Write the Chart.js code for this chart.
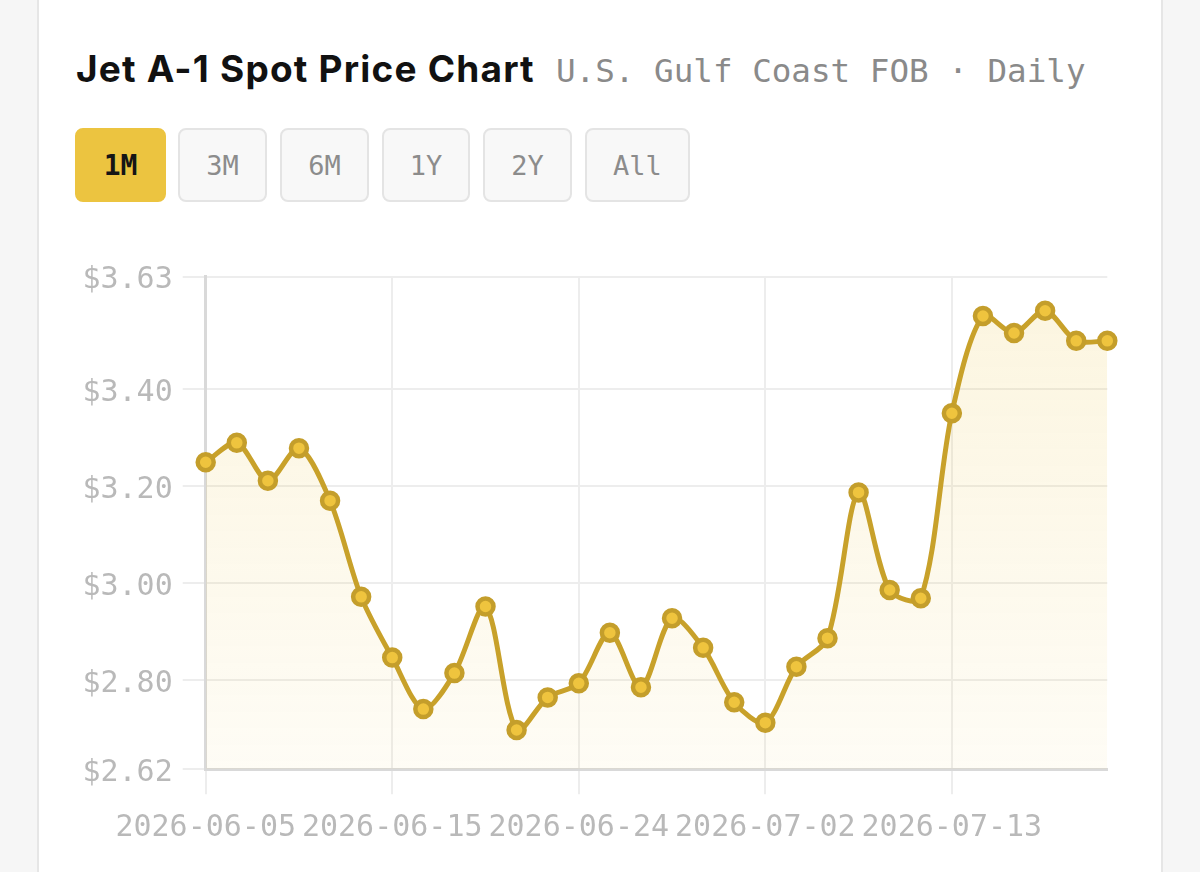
<!DOCTYPE html>
<html>
<head>
<meta charset="utf-8">
<script src="https://cdn.jsdelivr.net/npm/chart.js@4.4.1/dist/chart.umd.min.js"></script>
<style>
  html, body { margin:0; padding:0; width:1200px; height:872px; overflow:hidden; background:#f6f6f6; }
  .card { position:absolute; left:37px; top:-20px; width:1122px; height:940px; background:#ffffff; border:2px solid #e6e6e6; }
  .title { position:absolute; left:76px; top:46px; white-space:nowrap; }
  .title h1 { display:inline; margin:0; font-family:"Inter","Lato",sans-serif; font-weight:700; font-size:37px; letter-spacing:1.2px; color:#111111; }
  .subtitle { position:absolute; left:556px; top:52px; font-family:"DejaVu Sans Mono",monospace; font-size:32.6px; color:#8a8a8a; white-space:nowrap; }
  .btn { position:absolute; top:128px; height:70px; box-sizing:border-box; border:2px solid #e4e4e4; background:#f8f8f8; border-radius:8px;
         font-family:"DejaVu Sans Mono",monospace; font-size:27px; color:#8c8c8c; display:flex; align-items:center; justify-content:center; }
  .btn.active { background:#ecc440; border-color:#ecc440; color:#151515; font-weight:bold; font-size:28px; }
  #wrap { position:absolute; left:38px; top:230px; width:1124px; height:642px; }
</style>
</head>
<body>
<div class="card"></div>
<div class="title"><h1>Jet A-1 Spot Price Chart</h1></div>
<div class="subtitle">U.S. Gulf Coast FOB · Daily</div>
<div class="btn active" style="left:75px;width:91px;height:74px;">1M</div>
<div class="btn" style="left:178px;width:89px;height:74px;">3M</div>
<div class="btn" style="left:280px;width:89px;height:74px;">6M</div>
<div class="btn" style="left:382px;width:88px;height:74px;">1Y</div>
<div class="btn" style="left:483px;width:89px;height:74px;">2Y</div>
<div class="btn" style="left:585px;width:105px;height:74px;">All</div>
<div id="wrap"><canvas id="c" width="1124" height="642"></canvas></div>
<script>
// ---- data ----
const dates = [
  "2026-06-05","2026-06-08","2026-06-09","2026-06-10","2026-06-11","2026-06-12",
  "2026-06-15","2026-06-16","2026-06-17","2026-06-18","2026-06-22","2026-06-23",
  "2026-06-24","2026-06-25","2026-06-26","2026-06-29","2026-06-30","2026-07-01",
  "2026-07-02","2026-07-06","2026-07-07","2026-07-08","2026-07-09","2026-07-10",
  "2026-07-13","2026-07-14","2026-07-15","2026-07-16","2026-07-17","2026-07-20"
];
const prices = [
  3.249, 3.289, 3.211, 3.278, 3.170, 2.972,
  2.847, 2.741, 2.815, 2.952, 2.698, 2.765,
  2.794, 2.898, 2.786, 2.928, 2.867, 2.755,
  2.713, 2.828, 2.887, 3.187, 2.986, 2.969,
  3.350, 3.550, 3.515, 3.561, 3.499, 3.499
];
const yMin = 2.617;
const yMax = 3.631;
const yStepTicks = [2.80, 3.00, 3.20, 3.40];
const xLabelEvery = 6;

const yTickValues = [yMin].concat(yStepTicks, [yMax]);

const gridColor = '#ededed';
const labelColor = '#b9b9b9';
const monoFont = { family: '"DejaVu Sans Mono", monospace', size: 30 };

new Chart(document.getElementById('c'), {
  type: 'line',
  data: {
    labels: dates,
    datasets: [{
      data: prices,
      borderColor: '#c8a12a',
      borderWidth: 5,
      tension: 0.3,
      pointRadius: 8,
      pointBorderWidth: 4.5,
      pointBackgroundColor: '#efc43e',
      pointBorderColor: '#c49e2b',
      fill: 'start',
      clip: false,
      backgroundColor: (ctx) => {
        const chart = ctx.chart;
        const area = chart.chartArea;
        if (!area) return 'rgba(236,196,64,0.1)';
        const g = chart.ctx.createLinearGradient(0, area.top, 0, area.bottom);
        g.addColorStop(0, 'rgba(236,196,64,0.17)');
        g.addColorStop(1, 'rgba(236,196,64,0.05)');
        return g;
      }
    }]
  },
  options: {
    responsive: false,
    animation: false,
    devicePixelRatio: 1,
    layout: { padding: { top: 46.7, right: 54.7, bottom: 0, left: 0 } },
    plugins: { legend: { display: false }, tooltip: { enabled: false } },
    scales: {
      x: {
        grid: { color: gridColor, lineWidth: 2, tickLength: 25, tickColor: gridColor },
        border: { display: true, color: '#d9d9d9', width: 3 },
        ticks: {
          autoSkip: false, maxRotation: 0, minRotation: 0, padding: 16,
          color: labelColor, font: monoFont,
          callback: function(v, i) { return i % xLabelEvery === 0 ? dates[i] : null; }
        },
        afterFit: (s) => { s.height = 102.7; }
      },
      y: {
        min: yMin, max: yMax,
        afterBuildTicks: (s) => { s.ticks = yTickValues.map(v => ({ value: v })); },
        grid: { color: gridColor, lineWidth: 2, tickLength: 23, tickColor: gridColor },
        border: { display: true, color: '#d9d9d9', width: 3 },
        ticks: {
          padding: 10, labelOffset: 4, color: labelColor, font: monoFont,
          callback: (v) => '$' + Number(v).toFixed(2)
        },
        afterFit: (s) => { s.width = 167.7; }
      }
    }
  }
});
</script>
</body>
</html>
